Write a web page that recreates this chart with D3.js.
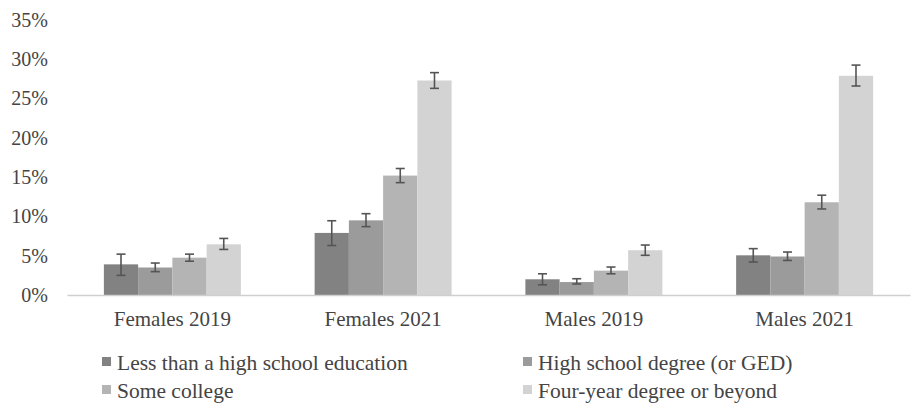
<!DOCTYPE html>
<html>
<head>
<meta charset="utf-8">
<script src="https://cdn.jsdelivr.net/npm/d3@7"></script>
<style>
  html, body { margin: 0; padding: 0; background: #fff; }
  svg text { font-family: "Liberation Serif", "DejaVu Serif", "Times New Roman", Times, serif !important; }
</style>
</head>
<body>
<svg id="chart" width="918" height="403"></svg>
<script>
// Groups along the x axis
const groups = ["Females 2019", "Females 2021", "Males 2019", "Males 2021"];
// Education levels (one bar per level within each group)
const levels = [
  "Less than a high school education",
  "High school degree (or GED)",
  "Some college",
  "Four-year degree or beyond"
];
const levelColors = ["#828282", "#9b9b9b", "#b4b4b4", "#d3d3d3"];

// Percent values, one array per education level (in group order)
const lessThanHS = [3.9, 7.9, 2.0, 5.05];
const highSchool = [3.5, 9.5, 1.65, 4.9];
const someCollege = [4.75, 15.2, 3.1, 11.8];
const fourYear = [6.45, 27.3, 5.7, 27.9];

// Error bar bounds (low, high) per education level
const lessThanHSErr = [[2.5, 5.2], [6.3, 9.45], [1.3, 2.7], [4.2, 5.9]];
const highSchoolErr = [[2.97, 4.07], [8.7, 10.35], [1.4, 2.07], [4.4, 5.47]];
const someCollegeErr = [[4.3, 5.2], [14.3, 16.1], [2.7, 3.56], [10.95, 12.7]];
const fourYearErr = [[5.8, 7.2], [26.3, 28.3], [5.05, 6.36], [26.6, 29.26]];

const yTicks = [0, 5, 10, 15, 20, 25, 30, 35];

const seriesValues = [lessThanHS, highSchool, someCollege, fourYear];
const seriesErrors = [lessThanHSErr, highSchoolErr, someCollegeErr, fourYearErr];

const FONT = '"Liberation Serif", "DejaVu Serif", "Times New Roman", Times, serif';
const svg = d3.select("#chart");
const margin = { left: 67, right: 8, top: 20, bottom: 108 };
const W = 918, H = 403;

const x0 = d3.scaleBand().domain(groups).range([margin.left, W - margin.right]).paddingInner(0.35).paddingOuter(0.175);
const x1 = d3.scaleBand().domain(levels).range([0, x0.bandwidth()]);
const y = d3.scaleLinear().domain([0, 35]).range([H - margin.bottom, margin.top]);

// y-axis tick labels (no axis line, no gridlines)
const yAxis = d3.axisLeft(y).tickValues(yTicks).tickSize(0).tickPadding(0).tickFormat(d => d + "%");
const yg = svg.append("g").attr("transform", `translate(${48},0)`).call(yAxis)
  .attr("font-family", FONT).attr("font-size", 20);
yg.select(".domain").remove();
yg.selectAll("text").attr("fill", "#444");

// Bars
const data = [];
groups.forEach((g, gi) => {
  levels.forEach((l, li) => {
    data.push({ group: g, level: l, li, value: seriesValues[li][gi], err: seriesErrors[li][gi] });
  });
});

svg.append("g").selectAll("rect").data(data).join("rect")
  .attr("x", d => x0(d.group) + x1(d.level))
  .attr("y", d => y(d.value))
  .attr("width", x1.bandwidth())
  .attr("height", d => y(0) - y(d.value))
  .attr("fill", d => levelColors[d.li]);

// Baseline and group labels
const xAxis = d3.axisBottom(x0).tickSize(0).tickPadding(16);
const xg = svg.append("g").attr("transform", `translate(0,${y(0)})`).call(xAxis)
  .attr("font-family", FONT).attr("font-size", 21);
xg.select(".domain").attr("stroke", "#cfcfcf").attr("stroke-width", 1.5);
xg.selectAll("text").attr("fill", "#444");

// Error bars
const eb = svg.append("g").attr("stroke", "#555").attr("stroke-width", 1.6).attr("fill", "none");
data.forEach(d => {
  const cx = x0(d.group) + x1(d.level) + x1.bandwidth() / 2;
  const capW = 4.5;
  eb.append("line").attr("x1", cx).attr("x2", cx).attr("y1", y(d.err[0])).attr("y2", y(d.err[1]));
  eb.append("line").attr("x1", cx - capW).attr("x2", cx + capW).attr("y1", y(d.err[0])).attr("y2", y(d.err[0]));
  eb.append("line").attr("x1", cx - capW).attr("x2", cx + capW).attr("y1", y(d.err[1])).attr("y2", y(d.err[1]));
});

// Legend: two columns, two rows
const legendPos = [[102, 362], [523, 362], [102, 390], [523, 390]];
const lg = svg.append("g").attr("font-family", FONT).attr("font-size", 21.5);
levels.forEach((l, i) => {
  const [lx, ly] = legendPos[i];
  lg.append("rect").attr("x", lx).attr("y", ly - 5).attr("width", 9).attr("height", 9).attr("fill", levelColors[i]);
  lg.append("text").attr("x", lx + 15).attr("y", ly).attr("dy", "0.35em")
    .attr("fill", "#444").text(l);
});
</script>
</body>
</html>
